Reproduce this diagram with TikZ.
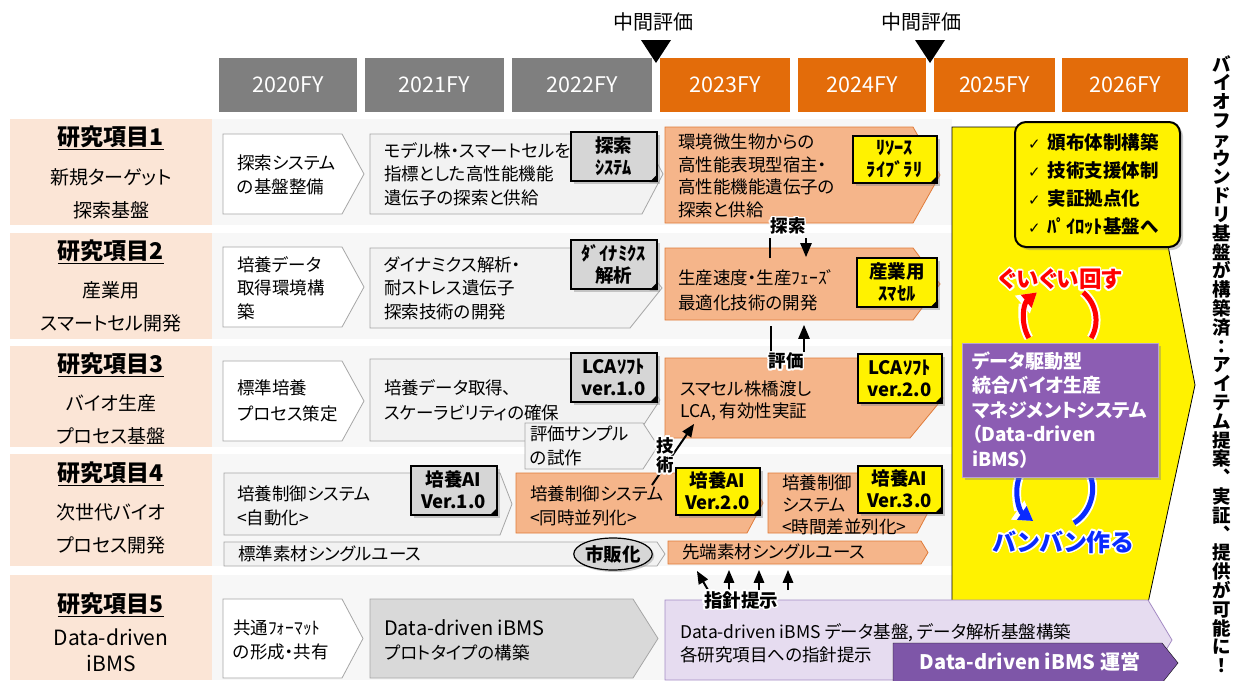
\documentclass[tikz,border=0pt]{standalone}
\usepackage{fontspec}
\setmainfont{Noto Sans CJK JP}[RawFeature=+palt]
\newfontfamily\symfont{DejaVu Sans}
\usepackage{contour}
\contourlength{1.6pt}
\usetikzlibrary{arrows, arrows.meta, shapes.geometric, positioning, calc, shadows}

\definecolor{peach}{HTML}{FBE5D6}
\definecolor{greyhead}{HTML}{7F7F7F}
\definecolor{orangehead}{HTML}{E36C0A}
\definecolor{boxline}{HTML}{A6A6A6}
\definecolor{lightbox}{HTML}{F2F2F2}
\definecolor{midbox}{HTML}{D9D9D9}
\definecolor{notegrey}{HTML}{D6D6D6}
\definecolor{orangefill}{HTML}{F5B58A}
\definecolor{orangeline}{HTML}{E07B39}
\definecolor{lavender}{HTML}{E6DCF0}
\definecolor{lavline}{HTML}{A48CC4}
\definecolor{purplebox}{HTML}{8C5DB3}
\definecolor{purpleedge}{HTML}{B7A2D3}
\definecolor{purplebar}{HTML}{7E56A8}
\definecolor{loopred}{HTML}{FF0000}
\definecolor{loopblue}{HTML}{0A2BFF}

% chevron box: style, x1, y1, x2 (tip), y2, depth
\newcommand{\chevbox}[6]{\draw[#1] (#2,#3) -- ({#4-#6},#3) -- (#4,{(#3+#5)/2}) -- ({#4-#6},#5) -- (#2,#5) -- cycle;}

\begin{document}
\begin{tikzpicture}[x=1pt, y=-1pt,
    every node/.style={inner sep=0pt},
    body/.style={font=\fontsize{17.5}{23.5}\selectfont, align=left, anchor=west},
    fy/.style={minimum height=54, text=white, font=\fontsize{21.5}{24}\selectfont},
    itemhead/.style={font=\bfseries\fontsize{23}{26}\selectfont},
    itemtxt/.style={font=\fontsize{19}{33}\selectfont, align=center},
    notebox/.style={draw=black, line width=2pt, minimum width=86, minimum height=49, align=center,
      font=\bfseries\fontsize{18.5}{22}\selectfont,
      drop shadow={shadow xshift=3pt, shadow yshift=-3pt, opacity=.4}},
    whitebox/.style={draw=boxline, fill=white, line width=0.8pt},
    greybox/.style={draw=boxline, fill=lightbox, line width=0.8pt},
    midgreybox/.style={draw=boxline, fill=midbox, line width=0.8pt},
    orangebox/.style={draw=orangeline, fill=orangefill, line width=0.8pt},
    lavbox/.style={draw=lavline, fill=lavender, line width=0.8pt},
    barbox/.style={fill=purplebar},
    halo/.style={font=\bfseries\fontsize{17.5}{19.5}\selectfont},
    link/.style={line width=2.3pt, -triangle 45},
  ]
\useasboundingbox (0,0) rectangle (1234,680);

% header
\node[font=\fontsize{20}{24}\selectfont] (mid1) at (653,22) {中間評価};
\node[font=\fontsize{20}{24}\selectfont] (mid2) at (921,22) {中間評価};
\fill (641,40) -- (671,40) -- (656,63) -- cycle;
\fill (915,40) -- (945,40) -- (930,63) -- cycle;

\node[fy, fill=greyhead, minimum width=138] (y2020) at (288,85) {2020FY};
\node[fy, fill=greyhead, minimum width=139] (y2021) at (434.5,85) {2021FY};
\node[fy, fill=greyhead, minimum width=140] (y2022) at (582,85) {2022FY};
\node[fy, fill=orangehead, minimum width=130] (y2023) at (725,85) {2023FY};
\node[fy, fill=orangehead, minimum width=128] (y2024) at (862,85) {2024FY};
\node[fy, fill=orangehead, minimum width=121] (y2025) at (994.5,85) {2025FY};
\node[fy, fill=orangehead, minimum width=126] (y2026) at (1125,85) {2026FY};

% row labels
\fill[peach] (10,119) rectangle (212,225);
\fill[peach] (10,233) rectangle (212,339);
\fill[peach] (10,346) rectangle (212,447);
\fill[peach] (10,454) rectangle (212,566);
\fill[peach] (10,575) rectangle (212,680);
\fill[black!3] (212,119) rectangle (952,225);
\fill[black!3] (212,233) rectangle (952,339);
\fill[black!3] (212,346) rectangle (952,447);
\fill[black!3] (212,454) rectangle (952,566);
\fill[black!3] (212,575) rectangle (952,680);

\node[itemhead] (item1) at (111,138) {\underline{研究項目1}};
\node[itemtxt] (item1b) at (111,194) {新規ターゲット\\探索基盤};
\node[itemhead] (item2) at (111,252) {\underline{研究項目2}};
\node[itemtxt] (item2b) at (111,307) {産業用\\スマートセル開発};
\node[itemhead] (item3) at (111,365) {\underline{研究項目3}};
\node[itemtxt] (item3b) at (111,420) {バイオ生産\\プロセス基盤};
\node[itemhead] (item4) at (111,474) {\underline{研究項目4}};
\node[itemtxt] (item4b) at (111,529) {次世代バイオ\\プロセス開発};
\node[itemhead] (item5) at (111,605) {\underline{研究項目5}};
\node[itemtxt, font=\fontsize{21}{26}\selectfont] (item5b) at (111,650) {Data-driven\\iBMS};

% big yellow goal area
\draw[fill=yellow, line width=0.8pt] (952,127) -- (1145,127) -- (1195,385) -- (1148,603) -- (952,603) -- cycle;

% row 1
\chevbox{whitebox}{223}{134}{364}{214}{22}
\chevbox{greybox}{370}{134}{663}{214}{21}
\chevbox{orangebox}{665}{127}{940}{223}{27}
\node[body] (t1a) at (237,175) {探索システム\\の基盤整備};
\node[body] (t1b) at (384,174) {モデル株・スマートセルを\\指標とした高性能機能\\遺伝子の探索と供給};
\node[body, font=\fontsize{17.5}{22.5}\selectfont] (t1c) at (678,176) {環境微生物からの\\高性能表現型宿主・\\高性能機能遺伝子の\\探索と供給};

% row 2
\chevbox{whitebox}{223}{247}{364}{327}{22}
\chevbox{greybox}{370}{248}{662}{328}{32}
\chevbox{orangebox}{665}{248}{940}{320}{27}
\node[body] (t2a) at (237,288) {培養データ\\取得環境構\\築};
\node[body] (t2b) at (384,288) {ダイナミクス解析・\\耐ストレス遺伝子\\探索技術の開発};
\node[body, font=\fontsize{17.5}{25}\selectfont] (t2c) at (678,290) {生産速度・生産ﾌｪｰｽﾞ\\最適化技術の開発};

% row 3
\chevbox{whitebox}{223}{361}{364}{441}{22}
\chevbox{greybox}{370}{359}{660}{441}{27}
\chevbox{orangebox}{665}{358}{943}{438}{33}
\chevbox{greybox}{525}{423}{658}{469}{15}
\node[body, font=\fontsize{17.5}{26}\selectfont] (t3a) at (237,401) {標準培養\\プロセス策定};
\node[body, font=\fontsize{17.5}{25}\selectfont] (t3b) at (384,400) {培養データ取得、\\スケーラビリティの確保};
\node[body] (t3s) at (530,446) {評価サンプル\\の試作};
\node[body, font=\fontsize{17.5}{22.5}\selectfont] (t3c) at (680,401) {スマセル株橋渡し\\LCA, 有効性実証};

% row 4
\chevbox{greybox}{224}{473}{512}{535}{12}
\chevbox{orangebox}{516}{473}{763}{533}{16}
\chevbox{orangebox}{768}{473}{933}{533}{16}
\chevbox{greybox}{224}{542}{665}{566}{8}
\chevbox{orangebox}{668}{541}{928}{564}{7}
\node[body] (t4a) at (237,506) {培養制御システム\\<自動化>};
\node[body] (t4b) at (530,506) {培養制御システム\\<同時並列化>};
\node[body, font=\fontsize{17.5}{22}\selectfont] (t4c) at (782,505) {培養制御\\システム\\<時間差並列化>};
\node[body] (t4d) at (238,554) {標準素材シングルユース};
\node[body] (t4e) at (682,552) {先端素材シングルユース};
\node[ellipse, draw, line width=1.2pt, fill=notegrey, minimum width=75, minimum height=32,
  font=\bfseries\fontsize{18.5}{20}\selectfont, drop shadow={shadow xshift=2pt, shadow yshift=-2pt, opacity=.4}] (hanbai) at (613,554) {市販化};

% row 5
\chevbox{whitebox}{223}{599}{363}{678}{21}
\chevbox{midgreybox}{370}{599}{658}{678}{25}
\chevbox{lavbox}{665}{600}{1172}{680}{24}
\chevbox{barbox}{893}{643}{1178}{683}{16}
\node[body] (t5a) at (233,640) {共通ﾌｫｰﾏｯﾄ\\の形成・共有};
\node[body] (t5b) at (384,640) {{\fontsize{20}{23.5}\selectfont Data-driven iBMS}\\プロトタイプの構築};
\node[body, font=\fontsize{17.5}{23}\selectfont] (t5c) at (680,643) {Data-driven iBMS データ基盤, データ解析基盤構築\\各研究項目への指針提示};
\node[text=white, font=\bfseries\fontsize{20}{24}\selectfont] (unei) at (1030,662) {Data-driven iBMS 運営};

% notes
\node[notebox, fill=notegrey] (n1) at (613.5,156.5) {探索\\ｼｽﾃﾑ};
\node[notebox, fill=notegrey] (n2) at (613.5,264.5) {ﾀﾞｲﾅﾐｸｽ\\解析};
\node[notebox, fill=notegrey] (n3) at (613.5,377) {LCAｿﾌﾄ\\ver.1.0};
\node[notebox, fill=notegrey] (n4) at (453.5,490) {培養AI\\Ver.1.0};
\node[notebox, fill=yellow, minimum width=84, minimum height=47] (n5) at (894.5,159) {ﾘｿｰｽ\\ﾗｲﾌﾞﾗﾘ};
\node[notebox, fill=yellow, minimum width=80] (n6) at (897,282) {産業用\\ｽﾏｾﾙ};
\node[notebox, fill=yellow, minimum width=84] (n7) at (899.5,378) {LCAｿﾌﾄ\\ver.2.0};
\node[notebox, fill=yellow, minimum width=84, minimum height=47] (n8) at (717.5,491) {培養AI\\Ver.2.0};
\node[notebox, fill=yellow, minimum width=84, minimum height=47] (n9) at (899.5,489) {培養AI\\Ver.3.0};
\foreach \n in {n1,n2,n3,n4,n5,n6,n7,n8,n9}
  \fill[black] (\n.south east) -- ++(-8,0) -- ++(8,-8) -- cycle;

% links between rows
\coordinate (s1) at (770,258);
\coordinate (s2) at (770,238);
\coordinate (s3) at (806,238);
\coordinate (s4) at (806,257);
\draw[line width=2.3pt] (s1) -- (s2);
\draw[link] (s3) -- (s4);
\node[halo] (tansaku) at (788,227) {\contour{white}{探索}};

\coordinate (e1) at (771,326);
\coordinate (e2) at (771,352);
\coordinate (e3) at (804,352);
\coordinate (e4) at (804,325);
\draw[line width=2.3pt] (e1) -- (e2);
\draw[link] (e3) -- (e4);
\node[halo] (hyoka) at (786,362) {\contour{white}{評価}};

\coordinate (g1) at (652,485);
\coordinate (g2) at (694,424);
\draw[link, line width=2pt] (g1) -- (g2);
\node[halo, align=center] (gijutsu) at (665,456) {\contour{white}{技}\\\contour{white}{術}};

\coordinate (p1) at (708,590);
\coordinate (p2) at (697,571);
\coordinate (p3) at (729,590);
\coordinate (p4) at (729,570);
\coordinate (p5) at (759,590);
\coordinate (p6) at (759,570);
\coordinate (p7) at (788,590);
\coordinate (p8) at (788,570);
\draw[link, line width=2pt] (p1) -- (p2);
\draw[link, line width=2pt] (p3) -- (p4);
\draw[link, line width=2pt] (p5) -- (p6);
\draw[link, line width=2pt] (p7) -- (p8);
\node[halo, font=\bfseries\fontsize{18.5}{20}\selectfont] (shishin) at (741,601) {\contour{white}{指針提示}};

% goal checklist
\node[draw, line width=2pt, rounded corners=11pt, fill=yellow, minimum width=165, minimum height=125,
  text width=139, align=left, inner xsep=13pt, font=\bfseries\fontsize{18.5}{28}\selectfont,
  drop shadow={shadow xshift=3pt, shadow yshift=-3pt, opacity=.4}] (goals) at (1097.5,184.5)
  {{\symfont\mdseries\fontsize{15}{28}\selectfont ✓}\hspace{7pt}頒布体制構築\\
   {\symfont\mdseries\fontsize{15}{28}\selectfont ✓}\hspace{7pt}技術支援体制\\
   {\symfont\mdseries\fontsize{15}{28}\selectfont ✓}\hspace{7pt}実証拠点化\\
   {\symfont\mdseries\fontsize{15}{28}\selectfont ✓}\hspace{7pt}ﾊﾟｲﾛｯﾄ基盤へ};

% loops
\coordinate (ra) at (1028.8,338);
\coordinate (rb) at (1036.9,292.4);
\coordinate (rc) at (1083.1,292.4);
\coordinate (rd) at (1091.2,338);
\draw[white, line width=9pt, -{Triangle[length=19pt, width=22pt]}] (ra) .. controls (1020,322.8) and (1023.5,303.6) .. (rb);
\draw[white, line width=9pt] (rc) .. controls (1096.5,303.6) and (1100,322.8) .. (rd);
\draw[loopred, line width=5pt, -{Triangle[length=14pt, width=16pt]}] (ra) .. controls (1020,322.8) and (1023.5,303.6) .. (rb);
\draw[loopred, line width=5pt] (rc) .. controls (1096.5,303.6) and (1100,322.8) .. (rd);
\node[text=loopred, font=\bfseries\fontsize{22.5}{26}\selectfont] (guigui) at (1060,280) {\contour{white}{ぐいぐい回す}};

\coordinate (ba) at (1019.3,477);
\coordinate (bb) at (1033.2,521);
\coordinate (bc) at (1090.7,477);
\coordinate (bd) at (1074,522.9);
\draw[white, line width=9pt, -{Triangle[length=19pt, width=22pt]}] (ba) .. controls (1013.4,493.2) and (1019.1,511.1) .. (bb);
\draw[white, line width=9pt] (bc) .. controls (1096.6,493.2) and (1088.9,514.3) .. (bd);
\draw[loopblue, line width=5pt, -{Triangle[length=14pt, width=16pt]}] (ba) .. controls (1013.4,493.2) and (1019.1,511.1) .. (bb);
\draw[loopblue, line width=5pt] (bc) .. controls (1096.6,493.2) and (1088.9,514.3) .. (bd);
\node[text=loopblue, font=\bfseries\fontsize{24}{28}\selectfont] (banban) at (1063,543) {\contour{white}{バンバン作る}};

\node[fill=purplebox, draw=purpleedge, line width=1pt, minimum width=196, minimum height=134,
  text width=176, align=left, text=white, font=\bfseries\fontsize{19}{24.5}\selectfont,
  drop shadow={shadow xshift=3pt, shadow yshift=-3pt, opacity=.4}] (ibms) at (1060,410)
  {データ駆動型\\統合バイオ生産\\マネジメントシステム\\（Data-driven\\iBMS）};

% closing statement
\node[font=\bfseries\fontsize{18.5}{18.8}\selectfont, align=center] (claim) at (1222,364)
  {バ\\イ\\オ\\フ\\ァ\\ウ\\ン\\ド\\リ\\基\\盤\\が\\構\\築\\済\\：\\ア\\イ\\テ\\ム\\提\\案\\︑\\実\\証\\︑\\提\\供\\が\\可\\能\\に\\！};
\end{tikzpicture}
\end{document}
